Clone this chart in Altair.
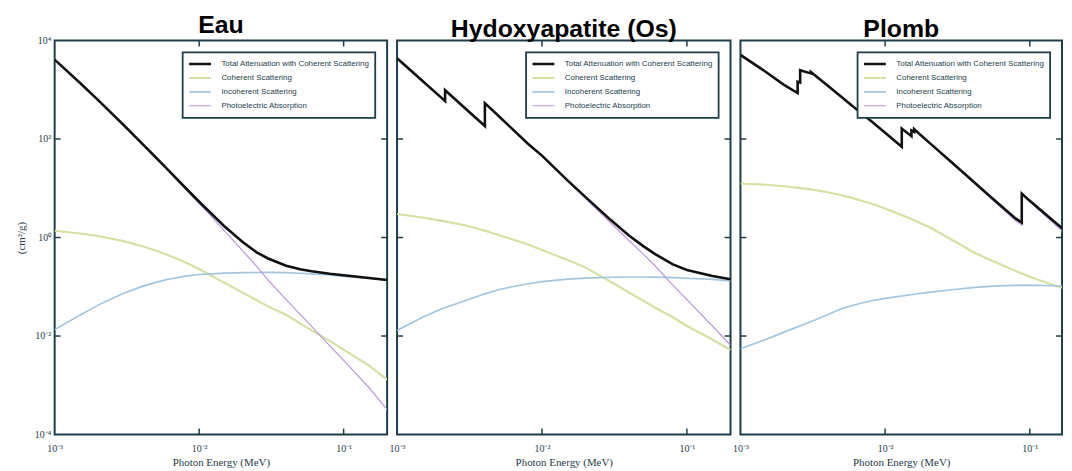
import math
import altair as alt
import pandas as pd

# ---------------- data (mass attenuation, cm2/g) ----------------
series_names = [
    "Total Attenuation with Coherent Scattering",
    "Coherent Scattering",
    "Incoherent Scattering",
    "Photoelectric Absorption",
]
series_colors = ["#111111", "#d2e2a2", "#a3c5df", "#bb98dc"]
series_widths = [2.6, 1.2, 1.2, 1.2]

x_tick_values = [0.001, 0.01, 0.1]
x_tick_labels = ["10⁻³", "10⁻²", "10⁻¹"]
y_tick_values = [1e4, 1e2, 1.0, 1e-2, 1e-4]
y_tick_labels = ["10⁴", "10²", "10⁰", "10⁻²", "10⁻⁴"]
x_inner_ticks = [0.01, 0.1]
y_inner_ticks = [1e2, 1.0, 1e-2]

panel_titles = ["Eau", "Hydoxyapatite (Os)", "Plomb"]

# smooth energy grid (MeV) for the scattering curves
smooth_energy = [0.001, 0.0015, 0.002, 0.003, 0.004, 0.005, 0.006, 0.008, 0.01,
                 0.015, 0.02, 0.03, 0.04, 0.05, 0.06, 0.08, 0.1, 0.15, 0.2]

# Eau
water_energy = [0.001, 0.0015, 0.002, 0.003, 0.004, 0.005, 0.006, 0.008, 0.01,
                0.015, 0.02, 0.025, 0.03, 0.04, 0.05, 0.06, 0.08, 0.1, 0.15, 0.2]
water_total = [4078, 1376, 617.3, 192.9, 82.78, 42.58, 24.64, 10.37, 5.329,
               1.673, 0.8096, 0.50, 0.3756, 0.2683, 0.2269, 0.2059, 0.1837, 0.1707, 0.1505, 0.137]
water_photo = [4076, 1374, 616.1, 192.0, 82.0, 41.9, 24.05, 9.89, 4.92,
               1.36, 0.535, 0.262, 0.137, 0.055, 0.0275, 0.0157, 0.0064, 0.0032, 0.00089, 0.00032]
water_coh = [1.37, 1.21, 1.07, 0.844, 0.674, 0.545, 0.449, 0.315, 0.230,
             0.120, 0.076, 0.040, 0.027, 0.018, 0.013, 0.008, 0.0053, 0.0025, 0.0013]
water_incoh = [0.0135, 0.0268, 0.0424, 0.0735, 0.1006, 0.1228, 0.1403, 0.1647, 0.1775,
               0.189, 0.194, 0.196, 0.1935, 0.188, 0.1825, 0.173, 0.163, 0.147, 0.1353]

# Hydroxyapatite (edges: P K 2.145 keV, Ca K 4.038 keV)
hap_energy = [0.001, 0.0015, 0.002, 0.002145, 0.002145, 0.003, 0.004038, 0.004038,
              0.005, 0.006, 0.008, 0.01, 0.015, 0.02, 0.03, 0.04, 0.05, 0.06, 0.08,
              0.1, 0.15, 0.2]
hap_total = [4360, 1510, 709, 590, 980, 403, 183, 535, 296, 178, 80.3, 46, 14.5, 6.6,
             2.23, 1.09, 0.67, 0.465, 0.285, 0.22, 0.166, 0.142]
hap_photo = [4357, 1507, 707, 588, 978, 401, 182, 534, 295, 177, 79.5, 45.3, 14.0, 6.2,
             1.95, 0.86, 0.46, 0.27, 0.108, 0.055, 0.016, 0.0065]
hap_coh = [3.0, 2.55, 2.2, 1.75, 1.39, 1.12, 0.95, 0.72, 0.56, 0.35, 0.245, 0.125,
           0.076, 0.052, 0.038, 0.024, 0.016, 0.0085, 0.0052]
hap_incoh = [0.013, 0.024, 0.035, 0.053, 0.071, 0.087, 0.098, 0.115, 0.127, 0.143,
             0.150, 0.156, 0.158, 0.158, 0.157, 0.153, 0.149, 0.141, 0.132]

# Plomb (M, L and K edges)
lead_energy = [0.001, 0.0015, 0.002, 0.002484, 0.002484, 0.002586, 0.002586, 0.003066,
               0.003066, 0.004, 0.005, 0.006, 0.008, 0.01, 0.013035, 0.013035, 0.0152,
               0.0152, 0.01586, 0.01586, 0.02, 0.03, 0.04, 0.05, 0.06, 0.08, 0.088,
               0.088, 0.1, 0.15, 0.2]
lead_total = [5100, 2300, 1260, 860, 1450, 1400, 2500, 2150, 2300, 1215, 711, 459, 231,
              134, 70, 163, 114, 150, 140, 158, 86.4, 30.3, 14.4, 8.04, 5.02, 2.42, 2.0,
              7.8, 5.55, 2.01, 1.00]
lead_photo = [5087, 2288, 1249, 850, 1440, 1390, 2490, 2141, 2291, 1207, 704, 453, 226,
              130, 67.4, 160.4, 111.7, 147.7, 137.8, 155.8, 84.7, 29.4, 13.8, 7.6, 4.68,
              2.19, 1.78, 7.6, 5.3, 1.82, 0.85]
lead_coh = [12.5, 11.8, 11.0, 9.6, 8.3, 7.2, 6.3, 4.9, 3.9, 2.4, 1.65, 0.85, 0.52,
            0.38, 0.30, 0.21, 0.16, 0.105, 0.082]
lead_incoh = [0.0055, 0.0085, 0.012, 0.019, 0.027, 0.036, 0.042, 0.052, 0.058, 0.069,
              0.077, 0.088, 0.096, 0.101, 0.104, 0.107, 0.108, 0.105, 0.100]

# ---------------- styling ----------------
FRAME = "#1f3d4a"
SERIF = "Liberation Serif"
SANS = "Liberation Sans"
PLOT_H = 397
TICK = 6


def label_expr(values, labels):
    expr = "''"
    for v, lab in zip(reversed(values), reversed(labels)):
        k = int(round(math.log10(v)))
        expr = f"(round(log(datum.value)/LN10) == {k} ? '{lab}' : {expr})"
    return expr


def build_df(energy, total, photo, coh, incoh):
    rows = []
    for s, xs, ys in [(series_names[3], energy, photo),
                      (series_names[1], smooth_energy, coh),
                      (series_names[2], smooth_energy, incoh),
                      (series_names[0], energy, total)]:
        for i, (e, v) in enumerate(zip(xs, ys)):
            rows.append({"E": e, "mu": v, "s": s, "i": i})
    return pd.DataFrame(rows)


def panel(title, df, xmax, width, show_y):
    xscale = alt.Scale(type="log", domain=[0.001, xmax], nice=False)
    yscale = alt.Scale(type="log", domain=[1e-4, 1e4], nice=False)
    xaxis = alt.Axis(values=x_tick_values, labelExpr=label_expr(x_tick_values, x_tick_labels),
                     ticks=False, domain=False, grid=False, labelFont=SERIF, labelFontSize=10,
                     labelColor=FRAME, labelPadding=9, labelFlush=False,
                     title="Photon Energy (MeV)", titleFont=SERIF, titleFontSize=11,
                     titleFontWeight="normal", titleColor=FRAME, titlePadding=3)
    if show_y:
        yaxis = alt.Axis(values=y_tick_values, labelExpr=label_expr(y_tick_values, y_tick_labels),
                         ticks=False, domain=False, grid=False, labelFont=SERIF, labelFontSize=10,
                         labelColor=FRAME, labelPadding=4, labelFlush=False,
                         title="(cm²/g)", titleFont=SERIF, titleFontSize=11,
                         titleFontWeight="normal", titleColor=FRAME, titlePadding=8)
    else:
        yaxis = None
    leg = alt.Legend(title=None, orient="top-right", offset=12, fillColor="white",
                     strokeColor=FRAME, padding=5, symbolType="stroke", symbolSize=484,
                     labelFont=SANS, labelFontSize=8, labelColor="#23404d", labelOffset=9,
                     rowPadding=0, clipHeight=13.5, labelLimit=400)
    color = alt.Color("s:N", scale=alt.Scale(domain=series_names, range=series_colors), legend=leg)
    sw = alt.StrokeWidth("s:N", scale=alt.Scale(domain=series_names, range=series_widths), legend=leg)

    layers = []
    for name in [series_names[1], series_names[2], series_names[3], series_names[0]]:
        layers.append(
            alt.Chart(df[df["s"] == name]).mark_line(clip=True).encode(
                x=alt.X("E:Q", scale=xscale, axis=xaxis),
                y=alt.Y("mu:Q", scale=yscale, axis=yaxis),
                color=color, strokeWidth=sw, order=alt.Order("i:Q"))
        )
    xt = pd.DataFrame({"E": x_inner_ticks})
    yt = pd.DataFrame({"mu": y_inner_ticks})
    rule_style = dict(color=FRAME, strokeWidth=1.5)
    layers.append(alt.Chart(xt).mark_rule(**rule_style).encode(
        x=alt.X("E:Q", scale=xscale, axis=xaxis), y=alt.value(PLOT_H), y2=alt.value(PLOT_H - TICK)))
    layers.append(alt.Chart(xt).mark_rule(**rule_style).encode(
        x=alt.X("E:Q", scale=xscale, axis=xaxis), y=alt.value(0), y2=alt.value(TICK)))
    layers.append(alt.Chart(yt).mark_rule(**rule_style).encode(
        y=alt.Y("mu:Q", scale=yscale, axis=yaxis), x=alt.value(0), x2=alt.value(TICK)))
    layers.append(alt.Chart(yt).mark_rule(**rule_style).encode(
        y=alt.Y("mu:Q", scale=yscale, axis=yaxis), x=alt.value(width), x2=alt.value(width - TICK)))

    return alt.layer(*layers).properties(
        width=width, height=PLOT_H,
        title=alt.TitleParams(title, font=SANS, fontSize=25, fontWeight="bold",
                              color="black", offset=-2, anchor="middle"),
    )


p1 = panel(panel_titles[0], build_df(water_energy, water_total, water_photo, water_coh, water_incoh),
           0.2, 335, True)
p2 = panel(panel_titles[1], build_df(hap_energy, hap_total, hap_photo, hap_coh, hap_incoh),
           0.2, 336, False)
p3 = panel(panel_titles[2], build_df(lead_energy, lead_total, lead_photo, lead_coh, lead_incoh),
           0.167, 324, False)

chart = alt.hconcat(p1, p2, p3, spacing=10, bounds="flush").resolve_scale(
    x="independent", y="independent", color="independent", strokeWidth="independent"
).resolve_legend(color="independent", strokeWidth="independent").configure_view(
    stroke=FRAME, strokeWidth=2
).configure_legend(
    strokeWidth=1.8
).properties(
    padding={"left": 6, "top": 2, "right": 0, "bottom": 0}, background="white"
)

chart.save("out.html", embed_options={"renderer": "svg", "actions": False})
